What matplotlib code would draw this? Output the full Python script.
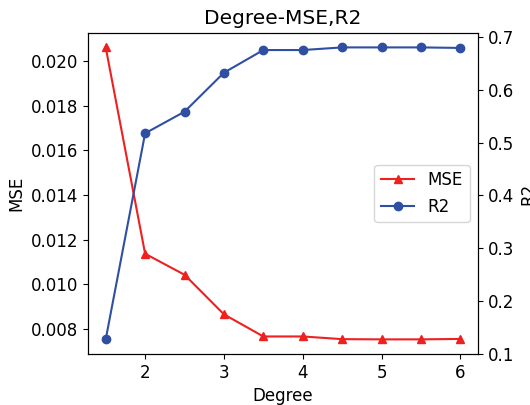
import matplotlib
matplotlib.use('Agg')
import matplotlib.pyplot as plt

degree = [1.5, 2, 2.5, 3, 3.5, 4, 4.5, 5, 5.5, 6]
mse = [0.0206, 0.01137, 0.01043, 0.00866, 0.00767, 0.00767, 0.00755, 0.00754, 0.00754, 0.00756]
r2 = [0.127, 0.518, 0.559, 0.633, 0.676, 0.676, 0.681, 0.681, 0.681, 0.680]

fig = plt.figure(figsize=(5.3, 4.05), dpi=100)
ax = fig.add_axes([0.166, 0.126, 0.736, 0.793])
ax2 = ax.twinx()

l1, = ax.plot(degree, mse, color='#ee2020', marker='^', markersize=6, label='MSE')
l2, = ax2.plot(degree, r2, color='#2f4fa2', marker='o', markersize=6, label='R2')

ax.set_title('Degree-MSE,R2', fontsize=14.5)
ax.set_xlabel('Degree', fontsize=12)
ax.set_ylabel('MSE', fontsize=12)
ax2.set_ylabel('R2', fontsize=12)
ax.tick_params(labelsize=12)
ax2.tick_params(labelsize=12)
ax.set_xticks([2, 3, 4, 5, 6])

ax.legend(handles=[l1, l2], loc='center right', fontsize=12)

fig.savefig('out.png')
